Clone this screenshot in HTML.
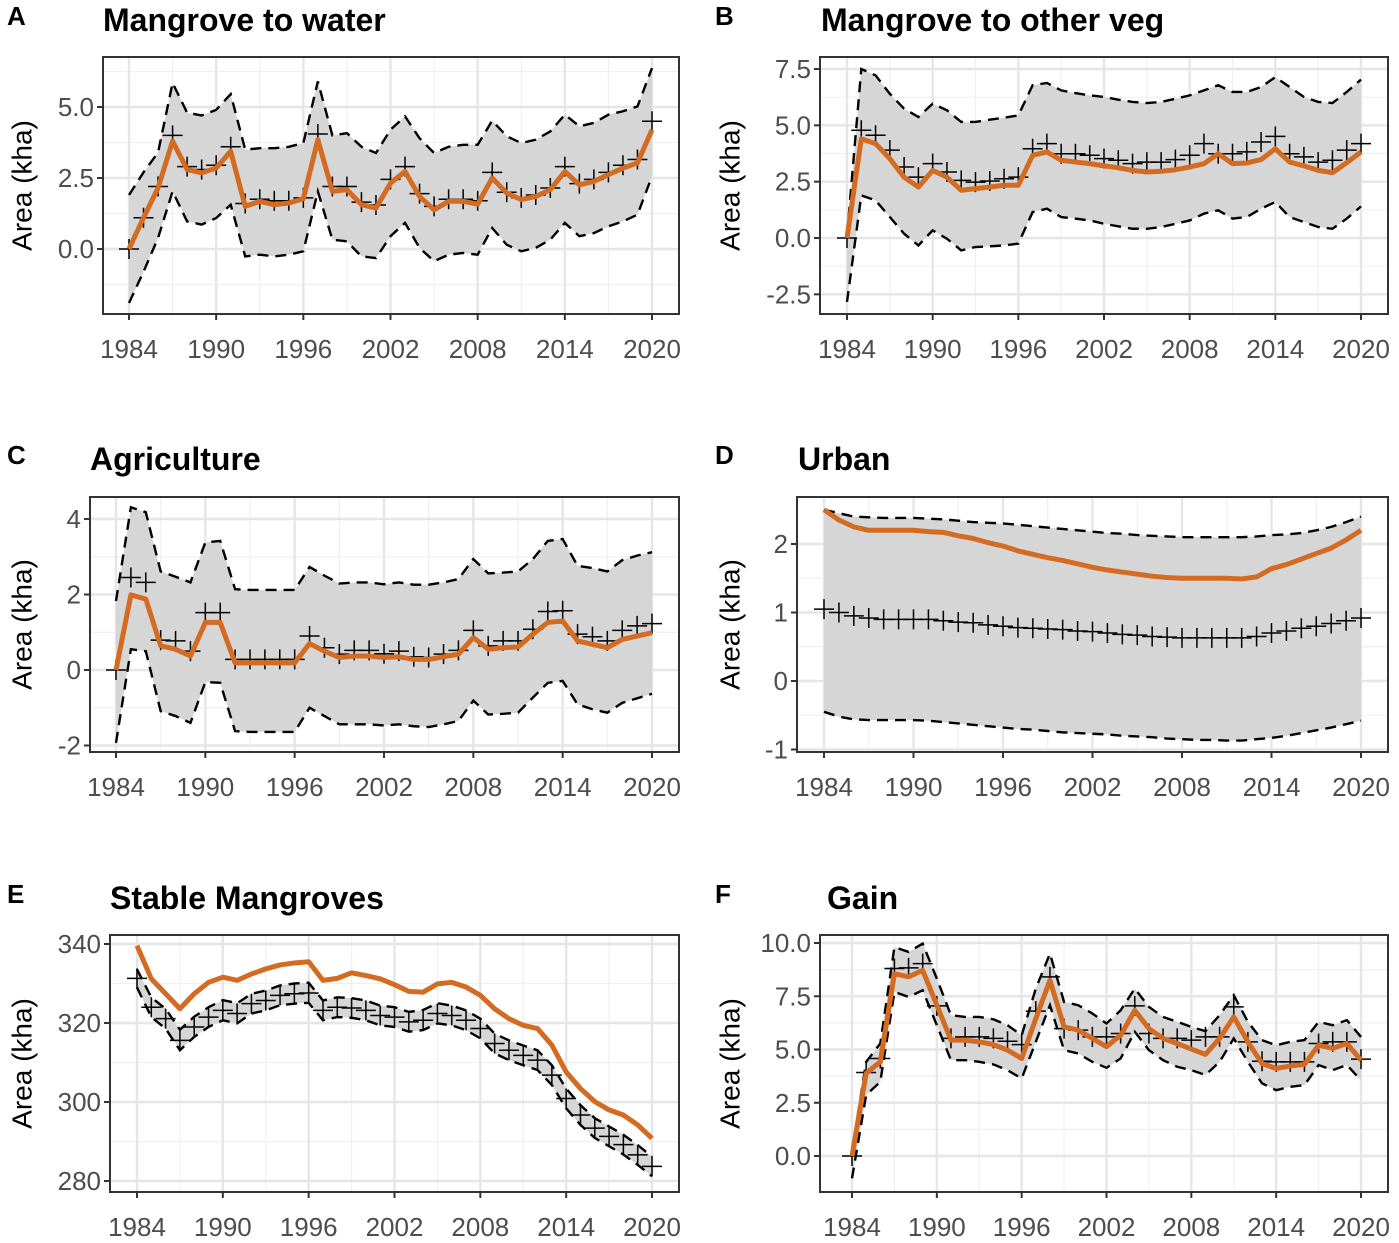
<!DOCTYPE html>
<html><head><meta charset="utf-8"><style>
html,body{margin:0;padding:0;background:#fff;}
svg{display:block;font-family:"Liberation Sans",Arial,sans-serif;}
</style></head><body>
<svg id="chart" width="1399" height="1243" viewBox="0 0 1399 1243"></svg>
<script>
const years=[1984,1985,1986,1987,1988,1989,1990,1991,1992,1993,1994,1995,1996,1997,1998,1999,2000,2001,2002,2003,2004,2005,2006,2007,2008,2009,2010,2011,2012,2013,2014,2015,2016,2017,2018,2019,2020];
const xTickLabels=[1984,1990,1996,2002,2008,2014,2020];

const aMean=[0,1.1,2.15,3.8,2.8,2.68,2.85,3.44,1.5,1.68,1.56,1.62,1.77,3.85,2.03,2.09,1.56,1.44,2.32,2.73,1.85,1.38,1.68,1.68,1.58,2.5,1.97,1.74,1.85,2.09,2.73,2.26,2.38,2.62,2.85,3.03,4.2];
const aObs=[0,1.1,2.2,4.0,2.9,2.8,2.95,3.6,1.6,1.75,1.7,1.7,1.8,4.05,2.2,2.2,1.65,1.55,2.45,2.9,1.95,1.5,1.75,1.75,1.7,2.7,2.0,1.8,1.9,2.15,2.9,2.3,2.45,2.7,2.95,3.15,4.5];
const aUp=[1.9,2.7,3.4,5.85,4.8,4.7,4.9,5.45,3.5,3.55,3.55,3.6,3.73,5.9,4.0,4.08,3.6,3.38,4.2,4.67,3.9,3.38,3.6,3.67,3.67,4.52,3.97,3.73,3.85,4.14,4.73,4.32,4.44,4.73,4.85,5.02,6.37];
const aLo=[-1.9,-0.8,0.39,2.03,0.97,0.86,1.09,1.56,-0.26,-0.2,-0.26,-0.2,-0.08,2.03,0.33,0.27,-0.26,-0.32,0.45,0.92,0.04,-0.43,-0.2,-0.14,-0.2,0.74,0.15,-0.08,0.04,0.33,0.92,0.45,0.56,0.8,0.97,1.21,2.56];

const bMean=[0,4.4,4.19,3.52,2.7,2.26,3.0,2.7,2.12,2.19,2.26,2.34,2.34,3.67,3.82,3.45,3.37,3.3,3.2,3.12,3.0,2.93,2.96,3.03,3.15,3.3,3.74,3.3,3.33,3.48,3.96,3.37,3.2,3.0,2.9,3.34,3.82];
const bObs=[0,4.78,4.56,3.9,3.15,2.7,3.3,2.93,2.56,2.48,2.53,2.63,2.7,3.96,4.19,3.74,3.74,3.67,3.52,3.45,3.3,3.37,3.37,3.48,3.67,4.19,3.74,3.74,3.82,4.26,4.51,3.74,3.6,3.37,3.45,3.9,4.19];
const bUp=[0.1,7.5,7.22,6.4,5.74,5.37,5.96,5.67,5.15,5.15,5.25,5.34,5.44,6.78,6.88,6.55,6.43,6.33,6.26,6.14,6.04,5.99,6.04,6.18,6.33,6.55,6.78,6.48,6.48,6.7,7.14,6.7,6.26,6.04,5.99,6.48,7.03];
const bLo=[-2.84,1.89,1.67,0.93,0.19,-0.33,0.34,-0.03,-0.55,-0.4,-0.37,-0.33,-0.25,1.15,1.3,0.93,0.86,0.78,0.63,0.52,0.41,0.41,0.49,0.63,0.78,1.08,1.23,0.86,0.93,1.3,1.6,0.93,0.71,0.49,0.41,0.86,1.4];

const cMean=[0,1.99,1.88,0.64,0.55,0.37,1.26,1.26,0.19,0.19,0.19,0.19,0.19,0.7,0.5,0.33,0.37,0.37,0.33,0.35,0.28,0.28,0.35,0.42,0.86,0.55,0.59,0.61,0.95,1.26,1.3,0.77,0.68,0.59,0.81,0.9,0.99];
const cObs=[0,2.45,2.32,0.79,0.77,0.5,1.52,1.52,0.28,0.28,0.28,0.28,0.28,0.9,0.59,0.42,0.52,0.52,0.43,0.5,0.35,0.33,0.42,0.52,1.05,0.64,0.77,0.77,1.08,1.55,1.57,0.95,0.88,0.77,1.05,1.17,1.23];
const cUp=[1.83,4.31,4.18,2.61,2.47,2.32,3.38,3.42,2.14,2.12,2.12,2.12,2.12,2.73,2.5,2.29,2.32,2.32,2.27,2.32,2.26,2.26,2.32,2.41,2.94,2.56,2.58,2.61,2.94,3.42,3.47,2.76,2.7,2.61,2.91,3.03,3.12];
const cLo=[-1.93,0.55,0.5,-1.09,-1.22,-1.4,-0.32,-0.34,-1.62,-1.64,-1.64,-1.64,-1.64,-1.0,-1.22,-1.44,-1.44,-1.44,-1.47,-1.44,-1.49,-1.51,-1.44,-1.35,-0.81,-1.18,-1.16,-1.13,-0.73,-0.34,-0.29,-0.91,-1.04,-1.13,-0.87,-0.75,-0.63];

const dMean=[2.5,2.35,2.25,2.2,2.2,2.2,2.2,2.18,2.17,2.12,2.08,2.02,1.97,1.9,1.85,1.8,1.76,1.71,1.66,1.62,1.59,1.56,1.53,1.51,1.5,1.5,1.5,1.5,1.49,1.52,1.64,1.7,1.78,1.86,1.94,2.06,2.2];
const dObs=[1.05,1.0,0.95,0.92,0.9,0.9,0.9,0.9,0.88,0.86,0.85,0.82,0.8,0.78,0.77,0.76,0.75,0.73,0.72,0.7,0.68,0.67,0.65,0.64,0.63,0.63,0.63,0.63,0.63,0.65,0.7,0.73,0.77,0.8,0.84,0.88,0.92];
const dUp=[2.5,2.45,2.4,2.39,2.38,2.38,2.38,2.37,2.36,2.34,2.32,2.31,2.3,2.28,2.26,2.24,2.22,2.2,2.18,2.16,2.15,2.13,2.12,2.11,2.1,2.1,2.1,2.1,2.1,2.11,2.13,2.14,2.16,2.2,2.25,2.32,2.4];
const dLo=[-0.45,-0.52,-0.56,-0.57,-0.57,-0.57,-0.57,-0.58,-0.6,-0.62,-0.64,-0.66,-0.68,-0.7,-0.71,-0.73,-0.75,-0.76,-0.77,-0.78,-0.8,-0.81,-0.82,-0.84,-0.85,-0.86,-0.86,-0.87,-0.87,-0.85,-0.83,-0.8,-0.76,-0.72,-0.68,-0.63,-0.58];

const eMean=[339.6,331.2,327.4,323.6,327.4,330.3,331.6,330.8,332.4,333.7,334.7,335.2,335.5,330.8,331.3,332.7,332.0,331.2,329.7,328.0,327.8,329.9,330.3,329.1,327.0,323.6,321.1,319.4,318.6,314.4,307.6,303.4,300.1,298.0,296.7,294.2,290.8];
const eObs=[331.3,324.0,321.1,315.6,319.0,321.5,323.2,322.4,324.9,325.7,327.0,327.4,327.6,323.2,324.0,323.8,323.2,321.9,321.5,320.3,320.7,322.4,321.9,320.7,318.6,314.8,313.1,311.8,310.6,306.8,300.9,296.7,293.4,291.3,289.2,286.6,283.7];
const eUp=[333.6,326.5,323.6,318.3,321.6,324.0,325.8,325.0,327.4,328.2,329.5,330.0,330.2,325.7,326.5,326.3,325.7,324.4,324.0,322.8,323.3,325.0,324.4,323.2,321.1,317.3,315.6,314.3,313.1,309.3,303.4,299.2,295.9,293.8,291.7,289.1,286.2];
const eLo=[329.0,321.5,318.6,313.1,316.5,319.0,320.7,319.9,322.4,323.2,324.5,324.9,325.1,320.7,321.5,321.3,320.7,319.4,319.0,317.8,318.2,319.9,319.4,318.2,316.1,312.3,310.6,309.3,308.1,304.3,298.4,294.2,290.9,288.8,286.7,284.1,281.2];

const fMean=[0,3.88,4.42,8.56,8.41,8.72,7.08,5.44,5.44,5.36,5.23,4.97,4.58,6.45,8.25,6.06,5.91,5.52,5.13,5.67,6.84,5.98,5.52,5.28,5.02,4.77,5.52,6.53,5.36,4.34,4.11,4.23,4.3,5.2,5.05,5.28,4.5];
const fObs=[0,3.92,4.58,8.8,8.83,9.03,7.05,5.52,5.59,5.59,5.52,5.39,5.23,6.8,8.41,5.98,5.91,5.59,5.59,5.75,7.05,5.75,5.52,5.52,5.44,5.59,5.59,7.0,5.36,4.45,4.42,4.42,4.42,5.28,5.36,5.36,4.55];
const fUp=[0.2,4.42,5.28,9.81,9.58,9.97,8.33,6.61,6.53,6.53,6.42,6.14,5.67,7.86,9.5,7.23,7.08,6.69,6.22,6.84,7.86,7.0,6.53,6.3,6.06,5.86,6.61,7.55,6.3,5.44,5.2,5.36,5.44,6.3,6.14,6.38,5.59];
const fLo=[-1.05,2.86,3.48,7.7,7.47,7.78,6.14,4.5,4.5,4.42,4.3,4.03,3.64,5.36,7.08,4.97,4.81,4.42,4.14,4.58,5.83,4.97,4.5,4.19,4.03,3.8,4.42,5.52,4.42,3.41,3.09,3.25,3.33,4.27,4.03,4.27,3.56];

const aYTicks=[0,2.5,5],aYLabels=["0.0","2.5","5.0"],aYMinor=[-1.25,1.25,3.75,6.25];
const bYTicks=[-2.5,0,2.5,5,7.5],bYLabels=["-2.5","0.0","2.5","5.0","7.5"],bYMinor=[-1.25,1.25,3.75,6.25];
const cYTicks=[-2,0,2,4],cYLabels=["-2","0","2","4"],cYMinor=[-1,1,3];
const dYTicks=[-1,0,1,2],dYLabels=["-1","0","1","2"],dYMinor=[-0.5,0.5,1.5];
const eYTicks=[280,300,320,340],eYLabels=["280","300","320","340"],eYMinor=[290,310,330];
const fYTicks=[0,2.5,5,7.5,10],fYLabels=["0.0","2.5","5.0","7.5","10.0"],fYMinor=[1.25,3.75,6.25,8.75];

const panels=[
 {id:'a',letter:'A',title:'Mangrove to water',box:[103,57,679,314],x0:129,x1:652,vA:0,pA:249,vB:5,pB:107,yt:aYTicks,yl:aYLabels,ym:aYMinor,mean:aMean,obs:aObs,up:aUp,lo:aLo,lx:7,tx:103,ty:31,ytx:22},
 {id:'b',letter:'B',title:'Mangrove to other veg',box:[820,57,1388,314],x0:847,x1:1361,vA:0,pA:238,vB:7.5,pB:69,yt:bYTicks,yl:bYLabels,ym:bYMinor,mean:bMean,obs:bObs,up:bUp,lo:bLo,lx:715,tx:821,ty:31,ytx:730},
 {id:'c',letter:'C',title:'Agriculture',box:[90,497,679,752],x0:116,x1:652,vA:0,pA:670,vB:4,pB:519,yt:cYTicks,yl:cYLabels,ym:cYMinor,mean:cMean,obs:cObs,up:cUp,lo:cLo,lx:7,tx:90,ty:470,ytx:22},
 {id:'d',letter:'D',title:'Urban',box:[797,497,1388,752],x0:824,x1:1361,vA:0,pA:681,vB:2,pB:544,yt:dYTicks,yl:dYLabels,ym:dYMinor,mean:dMean,obs:dObs,up:dUp,lo:dLo,lx:715,tx:798,ty:470,ytx:730},
 {id:'e',letter:'E',title:'Stable Mangroves',box:[110,935,679,1192],x0:137,x1:652,vA:280,pA:1181,vB:340,pB:944,yt:eYTicks,yl:eYLabels,ym:eYMinor,mean:eMean,obs:eObs,up:eUp,lo:eLo,lx:7,tx:110,ty:909,ytx:22},
 {id:'f',letter:'F',title:'Gain',box:[820,935,1388,1192],x0:852,x1:1361,vA:0,pA:1156,vB:10,pB:943,yt:fYTicks,yl:fYLabels,ym:fYMinor,mean:fMean,obs:fObs,up:fUp,lo:fLo,lx:715,tx:827,ty:909,ytx:730}
];
const NS='http://www.w3.org/2000/svg';
const svg=document.getElementById('chart');
function mk(tag,attrs,parent){const e=document.createElementNS(NS,tag);for(const k in attrs)e.setAttribute(k,attrs[k]);(parent||svg).appendChild(e);return e;}
panels.forEach(p=>{
 const g=mk('g',{});
 
 
 const xs=y=>p.x0+(y-1984)*(p.x1-p.x0)/36;
 const ys=v=>p.pA+(v-p.vA)*(p.pB-p.pA)/(p.vB-p.vA);
 const [L,T,R,B]=p.box;
 const bg=mk('rect',{x:L,y:T,width:R-L,height:B-T,fill:'#fff'},g);
 
 
 for(let y=1987;y<=2017;y+=6){const l=mk('line',{x1:xs(y),x2:xs(y),y1:T,y2:B,stroke:'#f0f0f0','stroke-width':1.2},g);}
 p.ym.forEach(v=>{const yy=ys(v);if(yy>T&&yy<B){const l=mk('line',{x1:L,x2:R,y1:yy,y2:yy,stroke:'#f0f0f0','stroke-width':1.2},g);}});
 xTickLabels.forEach(y=>{const l=mk('line',{x1:xs(y),x2:xs(y),y1:T,y2:B,stroke:'#e6e6e6','stroke-width':2.4},g);});
 p.yt.forEach(v=>{const l=mk('line',{x1:L,x2:R,y1:ys(v),y2:ys(v),stroke:'#e6e6e6','stroke-width':2.4},g);});
 let d='';years.forEach((y,i)=>{d+=(i?'L':'M')+xs(y)+','+ys(p.up[i]);});
 for(let i=years.length-1;i>=0;i--)d+='L'+xs(years[i])+','+ys(p.lo[i]);
 const rib=mk('path',{d:d+'Z',fill:'#d6d6d6',stroke:'none'},g);
 
 
 const pts=arr=>years.map((y,i)=>xs(y)+','+ys(arr[i])).join(' ');
 const up=mk('polyline',{points:pts(p.up),fill:'none',stroke:'#000','stroke-width':2.4,'stroke-dasharray':'11 7'},g);
 
 
 const lo=mk('polyline',{points:pts(p.lo),fill:'none',stroke:'#000','stroke-width':2.4,'stroke-dasharray':'11 7'},g);
 
 
 years.forEach((y,i)=>{const cx=xs(y),cy=ys(p.obs[i]);
  const c=mk('path',{d:`M${cx-10},${cy}H${cx+10}M${cx},${cy-10}V${cy+10}`,stroke:'#000','stroke-width':1.5,fill:'none'},g);
  
  });
 const m=mk('polyline',{points:pts(p.mean),fill:'none',stroke:'#d46b22','stroke-width':5,'stroke-linejoin':'round'},g);
 
 
 const fr=mk('rect',{x:L,y:T,width:R-L,height:B-T,fill:'none',stroke:'#333','stroke-width':2},g);
 
 
 xTickLabels.forEach(y=>{mk('line',{x1:xs(y),x2:xs(y),y1:B,y2:B+6,stroke:'#333','stroke-width':2},g);
  const t=mk('text',{x:xs(y),y:B+44,'text-anchor':'middle','font-size':26,fill:'#4d4d4d'},g);t.textContent=y;
  
  });
 p.yt.forEach((v,i)=>{mk('line',{x1:L-6,x2:L,y1:ys(v),y2:ys(v),stroke:'#333','stroke-width':2},g);
  const t=mk('text',{x:L-9,y:ys(v)+9,'text-anchor':'end','font-size':26,fill:'#4d4d4d'},g);t.textContent=p.yl[i];
  
  });
 const yt=mk('text',{x:p.ytx,y:(T+B)/2,transform:`rotate(-90 ${p.ytx} ${(T+B)/2})`,'text-anchor':'middle','dominant-baseline':'central','font-size':28,fill:'#000'},g);
 yt.textContent='Area (kha)';
 
 
 const lt=mk('text',{x:p.lx,y:p.ty-6,'font-size':26,'font-weight':'bold',fill:'#000'},g);lt.textContent=p.letter;
 
 
 const tt=mk('text',{x:p.tx,y:p.ty,'font-size':32,'font-weight':'bold',fill:'#000'},g);tt.textContent=p.title;
 
 
});
</script>
</body></html>
